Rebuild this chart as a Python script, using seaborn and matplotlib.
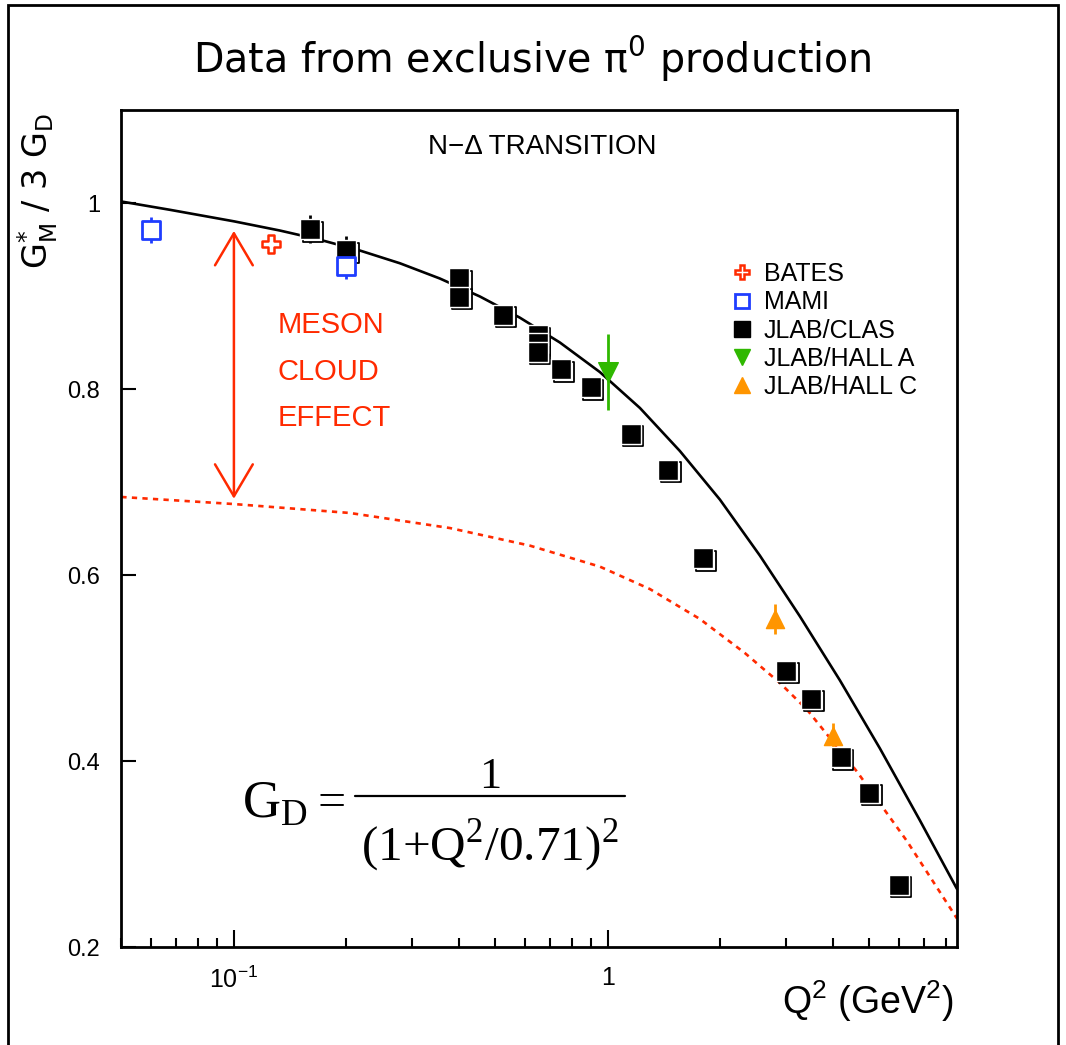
import numpy as np
import pandas as pd
import matplotlib
matplotlib.use("Agg")
import matplotlib.pyplot as plt
import seaborn as sns
from matplotlib.ticker import FixedLocator, FixedFormatter, LogLocator, NullFormatter
from matplotlib.transforms import offset_copy
from matplotlib.lines import Line2D
from matplotlib.patches import Rectangle

# ---------------- data ----------------
bates_q2 = [0.126]
bates_g = [0.956]
bates_err = [0.008]

mami_q2 = [0.06, 0.20]
mami_g = [0.971, 0.932]
mami_err = [0.014, 0.014]

clas_q2 = [0.16, 0.20, 0.40, 0.40, 0.525, 0.65, 0.65, 0.65, 0.75, 0.90,
           1.15, 1.45, 1.80, 3.0, 3.5, 4.2, 5.0, 6.0]
clas_g = [0.972, 0.949, 0.919, 0.899, 0.880, 0.858, 0.849, 0.840, 0.821, 0.802,
          0.752, 0.713, 0.618, 0.497, 0.467, 0.404, 0.366, 0.267]
clas_err = [0.015, 0.016, 0.006, 0.006, 0.005, 0.005, 0.005, 0.005, 0.005, 0.005,
            0.005, 0.005, 0.005, 0.006, 0.006, 0.006, 0.007, 0.008]

halla_q2 = [1.0]
halla_g = [0.818]
halla_err = [0.041]

hallc_q2 = [2.8, 4.0]
hallc_g = [0.553, 0.427]
hallc_err = [0.016, 0.014]

# quark-core model curve (solid) and bare-quark curve (dashed)
model_q2 = [0.05, 0.0674, 0.1, 0.1327, 0.1698, 0.2172, 0.2779, 0.3554, 0.4546,
            0.5816, 0.7441, 0.9519, 1.218, 1.558, 1.993, 2.549, 3.262, 4.173,
            5.338, 6.829, 8.58]
model_g = [1.0016, 0.9927, 0.9803, 0.9704, 0.9605, 0.9489, 0.9352, 0.9188, 0.8995,
           0.8767, 0.8500, 0.8182, 0.7796, 0.7333, 0.6811, 0.6209, 0.5555, 0.4867,
           0.4135, 0.3361, 0.2624]

bare_q2 = [0.05, 0.1, 0.2042, 0.378, 0.6184, 0.9519, 1.295, 1.762, 2.324, 2.884,
           3.405, 4.633, 6.302, 8.58]
bare_g = [0.6839, 0.6763, 0.6667, 0.6505, 0.6316, 0.6090, 0.5849, 0.5527, 0.5161, 0.4839,
          0.4554, 0.3887, 0.3140, 0.2306]

xtick_vals = [0.1, 1.0]
xtick_labels = [r"$\mathregular{10^{-1}}$", "1"]
ytick_vals = [0.2, 0.4, 0.6, 0.8, 1.0]
ytick_labels = ["0.2", "0.4", "0.6", "0.8", "1"]

legend_labels = ["BATES", "MAMI", "JLAB/CLAS", "JLAB/HALL A", "JLAB/HALL C"]

RED = "#ff2a00"
BLUE = "#1f3dff"
GREEN = "#2fb800"
ORANGE = "#ff9500"

# ---------------- figure ----------------
sns.set_theme(style="white")
plt.rcParams["font.family"] = ["Liberation Sans", "DejaVu Sans"]
plt.rcParams["text.color"] = "black"
plt.rcParams["xtick.color"] = "black"
plt.rcParams["ytick.color"] = "black"
plt.rcParams["axes.labelcolor"] = "black"

W, H = 1066, 1045
fig = plt.figure(figsize=(W / 100, H / 100), dpi=100)


def fx(px):
    return px / W


def fy(py):
    return 1 - py / H


ax = fig.add_axes([fx(121), fy(947), (957 - 121) / W, (947 - 110) / H])
ax.set_xscale("log")
ax.set_xlim(0.0499, 8.58)
ax.set_ylim(0.2, 1.1)

# curves
sns.lineplot(x=model_q2, y=model_g, ax=ax, color="black", linewidth=1.9, zorder=2)
sns.lineplot(x=bare_q2, y=bare_g, ax=ax, color=RED, linewidth=1.9,
             linestyle=(0, (2.0, 2.0)), zorder=2)

# error bars
for q, g, e, c in [(clas_q2, clas_g, clas_err, "black"),
                   (mami_q2, mami_g, mami_err, BLUE),
                   (bates_q2, bates_g, bates_err, RED),
                   (halla_q2, halla_g, halla_err, GREEN),
                   (hallc_q2, hallc_g, hallc_err, ORANGE)]:
    ax.errorbar(q, g, yerr=e, fmt="none", ecolor=c, elinewidth=2.0, capsize=0, zorder=3)

# CLAS squares with an offset outline behind them
sns.scatterplot(x=clas_q2, y=clas_g, ax=ax, marker="s", s=190, facecolor="white",
                edgecolor="black", linewidth=1.3, zorder=4)
ax.collections[-1].set_offset_transform(
    offset_copy(ax.transData, fig=fig, x=2.5, y=-2.5, units="dots"))
sns.scatterplot(x=clas_q2, y=clas_g, ax=ax, marker="s", s=190, color="black",
                edgecolor="white", linewidth=1.0, zorder=5)

sns.scatterplot(x=mami_q2, y=mami_g, ax=ax, marker="s", s=150, facecolor="white",
                edgecolor=BLUE, linewidth=2.0, zorder=6)
sns.scatterplot(x=bates_q2, y=bates_g, ax=ax, marker="P", s=150, facecolor="white",
                edgecolor=RED, linewidth=1.8, zorder=6)
sns.scatterplot(x=halla_q2, y=halla_g, ax=ax, marker="v", s=200, color=GREEN,
                edgecolor=GREEN, linewidth=1.0, zorder=6)
sns.scatterplot(x=hallc_q2, y=hallc_g, ax=ax, marker="^", s=170, color=ORANGE,
                edgecolor=ORANGE, linewidth=1.0, zorder=6)

# axes styling
for sp in ax.spines.values():
    sp.set_linewidth(2.0)
    sp.set_color("black")
ax.xaxis.set_major_locator(FixedLocator(xtick_vals))
ax.xaxis.set_major_formatter(FixedFormatter(xtick_labels))
ax.xaxis.set_minor_locator(LogLocator(base=10, subs=np.arange(2, 10)))
ax.xaxis.set_minor_formatter(NullFormatter())
ax.yaxis.set_major_locator(FixedLocator(ytick_vals))
ax.yaxis.set_major_formatter(FixedFormatter(ytick_labels))
ax.tick_params(axis="x", which="major", bottom=True, top=False, direction="in",
               length=12.5, width=1.5, labelsize=18, pad=14, colors="black")
ax.tick_params(axis="x", which="minor", bottom=True, top=False, direction="in",
               length=6.5, width=1.5, colors="black")
ax.tick_params(axis="y", which="major", left=True, right=False, direction="in",
               length=10.5, width=1.5, labelsize=17, pad=15, colors="black")
ax.tick_params(axis="y", which="minor", left=False, right=False, length=0)
ax.set_xlabel("")
ax.set_ylabel("")

# legend
handles = [
    Line2D([], [], ls="none", marker="P", ms=10.5, mfc="white", mec=RED, mew=1.8),
    Line2D([], [], ls="none", marker="s", ms=10.5, mfc="white", mec=BLUE, mew=2.0),
    Line2D([], [], ls="none", marker="s", ms=11.5, mfc="black", mec="black"),
    Line2D([], [], ls="none", marker="v", ms=12, mfc=GREEN, mec=GREEN),
    Line2D([], [], ls="none", marker="^", ms=12, mfc=ORANGE, mec=ORANGE),
]
leg = ax.legend(handles, legend_labels, loc="upper left",
                bbox_to_anchor=((729 - 121) / 836, (947 - 262) / 837),
                frameon=False, fontsize=18, handlelength=1.0, handletextpad=0.4,
                labelspacing=0.17, borderpad=0, borderaxespad=0)
for t in leg.get_texts():
    t.set_color("black")

# annotations
ax.text(0.5036, 0.9558, "N\u2212\u0394 TRANSITION", transform=ax.transAxes,
        ha="center", va="center", fontsize=20, color="black")
ax.text(0.131, 0.8185, "MESON\nCLOUD\nEFFECT", ha="left", va="center",
        fontsize=21, color=RED, linespacing=1.84)
ax.annotate("", xy=(0.1, 0.970), xytext=(0.1, 0.682),
            arrowprops=dict(arrowstyle="<->,head_length=1.15,head_width=0.68",
                            mutation_scale=20, lw=1.8, color=RED,
                            shrinkA=0, shrinkB=0))

# dipole form factor formula
serif = ["Liberation Serif", "DejaVu Serif"]
fig.text(fx(242), fy(817), r"G$_\mathregular{D}$", family=serif, fontsize=38,
         ha="left", va="baseline")
fig.text(fx(332), fy(804), "=", family=serif, fontsize=36, ha="center", va="center")
fig.add_artist(Line2D([fx(355), fx(625)], [fy(796), fy(796)],
                      transform=fig.transFigure, color="black", lw=1.6))
fig.text(fx(490), fy(788), "1", family=serif, fontsize=32, ha="center", va="baseline")
fig.text(fx(490), fy(861), r"(1+Q$^\mathregular{2}$/0.71)$^\mathregular{2}$",
         family=serif, fontsize=35.5, ha="center", va="baseline")

# titles
fig.text(0.499, fy(73), r"Data from exclusive $\mathregular{\pi^{0}}$ production",
         family=["DejaVu Sans"], fontsize=28.5, ha="center", va="baseline",
         color="black")
fig.text(fx(38), fy(113), r"$\mathregular{G^{*}_{M}}$ / 3 G$_\mathregular{D}$",
         family=["DejaVu Sans"], fontsize=24, rotation=90, ha="center", va="top",
         color="black")
fig.text(fx(953), fy(1014), r"Q$^\mathregular{2}$ (GeV$^\mathregular{2}$)",
         fontsize=27, ha="right", va="baseline", color="black")

# outer frame
fig.add_artist(Rectangle((fx(8), -0.1), (1058 - 8) / W, 1.1 - 5 / H,
                         transform=fig.transFigure, fill=False, lw=2.0,
                         edgecolor="black", clip_on=False))

fig.savefig("out.png", dpi=100)
